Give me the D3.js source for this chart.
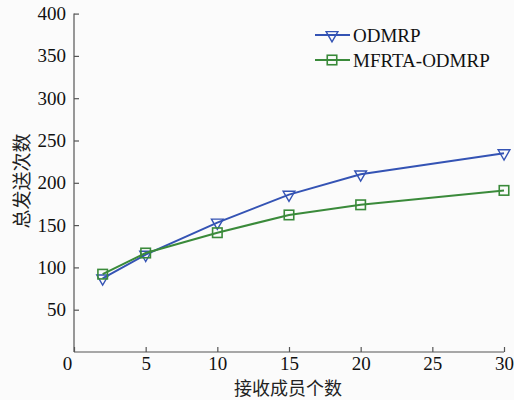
<!DOCTYPE html>
<html><head><meta charset="utf-8">
<script src="https://cdn.jsdelivr.net/npm/d3@7"></script>
<style>body{margin:0;background:#fbfbfb;}svg{display:block;}</style>
</head><body>
<script>
const xValues = [2, 5, 10, 15, 20, 30];
const odmrp = [87, 115, 153, 186, 210, 235];
const mfrta = [92, 117, 141, 162, 174, 191];
const seriesNames = ["ODMRP", "MFRTA-ODMRP"];
const xTicks = [0, 5, 10, 15, 20, 25, 30];
const yTicks = [50, 100, 150, 200, 250, 300, 350, 400];
const xTitle = "接收成员个数";
const yTitle = "总发送次数";

const W = 514, H = 400;
const svg = d3.select("body").append("svg").attr("width", W).attr("height", H);
svg.append("rect").attr("width", W).attr("height", H).attr("fill", "#fbfbfb");
const x = d3.scaleLinear().domain([0, 30]).range([74, 504]);
const y = d3.scaleLinear().domain([0, 400]).range([352, 13.6]);
const font = "Liberation Serif, Times New Roman, serif";
const cjk = "Noto Sans CJK SC, sans-serif";
const axisColor = "#555";

const xa = svg.append("g").attr("transform", "translate(0,352)")
  .call(d3.axisBottom(x).tickValues(xTicks).tickSizeInner(-5).tickSizeOuter(0).tickPadding(5));
const ya = svg.append("g").attr("transform", "translate(74,0)")
  .call(d3.axisLeft(y).tickValues(yTicks).tickSizeInner(-5).tickSizeOuter(0).tickPadding(8));
[xa, ya].forEach(a => {
  a.selectAll("path,line").attr("stroke", axisColor).attr("stroke-width", 1.2);
  a.selectAll("text").attr("font-family", font).attr("font-size", 19).attr("fill", "#111");
});
xa.selectAll(".tick").filter(d => d === 0).select("text").attr("dx", -7);
ya.select(".domain").attr("d", "M0,352V13.6");
xa.select(".domain").attr("d", "M74,0H504");

svg.append("text").attr("x", 288).attr("y", 395).attr("text-anchor", "middle")
  .attr("font-family", cjk).attr("font-size", 18).attr("fill", "#222").text(xTitle);
svg.append("text").attr("transform", "translate(29,181) rotate(-90)").attr("text-anchor", "middle")
  .attr("font-family", cjk).attr("font-size", 19).attr("fill", "#222").text(yTitle);

const colors = ["#3453b4", "#3a8a3a"];
const data = [odmrp, mfrta];
const line = d3.line().x((d, i) => x(xValues[i])).y(d => y(d));
const tri = d3.symbol().type(d3.symbolTriangle).size(60);

function marker(g, k, cx, cy) {
  if (k === 0) {
    g.append("path").attr("d", tri()).attr("transform", `translate(${cx},${cy}) rotate(180)`)
      .attr("fill", "none").attr("stroke", colors[k]).attr("stroke-width", 1.4);
  } else {
    g.append("rect").attr("x", cx - 4.75).attr("y", cy - 4.75).attr("width", 9.5).attr("height", 9.5)
      .attr("fill", "none").attr("stroke", colors[k]).attr("stroke-width", 1.6);
  }
}

data.forEach((s, k) => {
  svg.append("path").datum(s).attr("d", line).attr("fill", "none").attr("stroke", colors[k]).attr("stroke-width", 2);
  const g = svg.append("g");
  s.forEach((v, i) => marker(g, k, x(xValues[i]), y(v)));
});

seriesNames.forEach((n, k) => {
  const ly = 35 + k * 25;
  svg.append("line").attr("x1", 315).attr("x2", 350).attr("y1", ly).attr("y2", ly)
    .attr("stroke", colors[k]).attr("stroke-width", 2);
  marker(svg.append("g"), k, 332, ly);
  svg.append("text").attr("x", 353).attr("y", ly + 7).attr("font-family", font)
    .attr("font-size", 19).attr("fill", "#111").text(n);
});
</script>
</body></html>
